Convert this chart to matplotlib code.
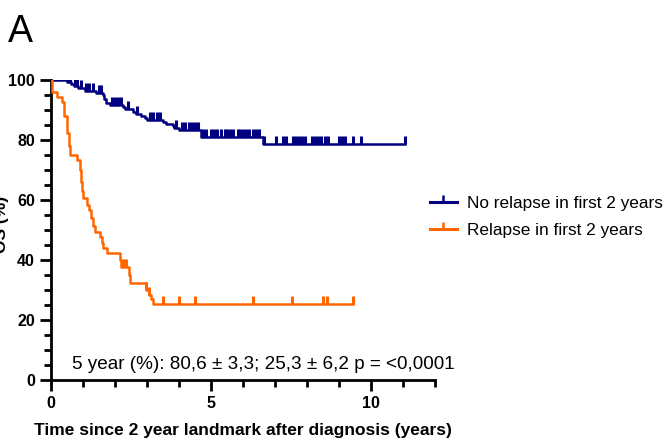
import numpy as np
import matplotlib
matplotlib.use('Agg')
import matplotlib.pyplot as plt
from matplotlib.ticker import MultipleLocator

plt.rcParams['font.family'] = ['Liberation Sans', 'DejaVu Sans']

# No relapse in first 2 years: step times (years) and OS (%)
no_rel_t = [0, 0.50, 0.62, 0.72, 0.85, 1.05, 1.40, 1.62, 1.66, 1.72, 1.85, 2.25, 2.30,
            2.55, 2.65, 2.80, 2.95, 3.00, 3.50, 3.60, 3.80, 3.85, 4.00, 4.69, 6.63]
no_rel_s = [100, 99.3, 98.6, 97.9, 97.2, 96.5, 95.8, 95.1, 93.7, 92.3, 91.6, 90.9, 90.2,
            89.5, 88.8, 88.1, 87.4, 86.7, 86.0, 85.3, 84.6, 83.9, 83.2, 80.9, 78.7]
no_rel_end = 11.06
no_rel_cens = [0.45, 0.55, 0.60, 0.75, 0.80, 0.95, 1.10, 1.20, 1.30, 1.50, 1.55, 1.90, 2.00,
               2.10, 2.20, 2.40, 2.70, 3.10, 3.20, 3.30, 3.40, 3.90, 4.10, 4.20, 4.30, 4.40,
               4.50, 4.60, 4.75, 4.85, 5.00, 5.10, 5.20, 5.30, 5.45, 5.50, 5.60, 5.70, 5.85,
               5.90, 6.00, 6.10, 6.20, 6.30, 6.40, 6.50, 6.66, 7.03, 7.25, 7.35, 7.56, 7.65,
               7.75, 7.85, 7.95, 8.15, 8.25, 8.35, 8.45, 8.55, 8.65, 9.00, 9.10, 9.20, 9.44,
               9.69, 11.06]

# Relapse in first 2 years
rel_t = [0, 0.04, 0.20, 0.33, 0.42, 0.50, 0.56, 0.58, 0.82, 0.92, 0.95, 0.98, 1.00, 1.13,
         1.18, 1.25, 1.30, 1.37, 1.52, 1.60, 1.63, 1.75, 2.16, 2.20, 2.44, 2.47, 2.97, 3.05,
         3.12, 3.20]
rel_s = [100, 96.1, 94.4, 92.8, 88.0, 82.2, 78.0, 75.0, 73.3, 70.0, 66.0, 63.0, 60.6, 58.3,
         56.7, 53.9, 51.3, 49.4, 47.8, 45.8, 43.9, 42.2, 40.0, 37.8, 35.0, 32.2, 30.0, 28.3,
         27.0, 25.3]
rel_end = 9.43
rel_cens = [2.22, 2.28, 2.34, 2.97, 3.07, 3.50, 4.00, 4.50, 6.30, 7.53, 8.50, 8.62, 9.43]

navy = '#000080'
orange = '#FF6600'


def surv_at(times, surv, pts):
    idx = np.searchsorted(times, pts, side='right') - 1
    return np.array(surv)[idx]


fig = plt.figure(figsize=(6.71, 4.42), dpi=100)
ax = fig.add_axes([51 / 671, 62 / 442, 384 / 671, 300 / 442])

for t, s, end, cens, col, lab in [
        (no_rel_t, no_rel_s, no_rel_end, no_rel_cens, navy, 'No relapse in first 2 years'),
        (rel_t, rel_s, rel_end, rel_cens, orange, 'Relapse in first 2 years')]:
    tt = list(t) + [end]
    ss = list(s) + [s[-1]]
    ax.step(tt, ss, where='post', color=col, lw=1.8, zorder=3)
    ax.plot(cens, surv_at(t, s, cens), ls='none', marker=2, ms=6, mew=2.2,
            color=col, zorder=3)
    ax.plot([], [], color=col, lw=2.2, marker=2, ms=5, mew=1.8, label=lab)

ax.set_xlim(0, 12)
ax.set_ylim(0, 100)
ax.spines['top'].set_visible(False)
ax.spines['right'].set_visible(False)
for sp in ['left', 'bottom']:
    ax.spines[sp].set_linewidth(2)
ax.xaxis.set_major_locator(MultipleLocator(5))
ax.xaxis.set_minor_locator(MultipleLocator(1))
ax.yaxis.set_major_locator(MultipleLocator(20))
ax.yaxis.set_minor_locator(MultipleLocator(5))
ax.tick_params(which='major', length=8, width=2, labelsize=11.5)
ax.tick_params(which='minor', length=5, width=2)
ax.set_xticks([0, 5, 10])
ax.set_xticklabels(['0', '5', '10'])
for lbl in ax.get_xticklabels() + ax.get_yticklabels():
    lbl.set_fontweight('bold')

ax.set_xlabel('Time since 2 year landmark after diagnosis (years)',
              fontsize=12.5, fontweight='bold', labelpad=9)
ax.set_ylabel('OS (%)', fontsize=12.5, fontweight='bold')
ax.yaxis.set_label_coords(-0.11, 0.52)

ax.text(0.65, 2.3, '5 year (%): 80,6 \u00b1 3,3; 25,3 \u00b1 6,2 p = <0,0001',
        fontsize=13.6, va='bottom', ha='left')

fig.text(8 / 671, 1 - 42 / 442, 'A', fontsize=27, ha='left', va='baseline')

fig.legend(loc='center left', bbox_to_anchor=(414 / 671, 1 - 217 / 442),
           frameon=False, fontsize=12.4, handlelength=1.6, labelspacing=0.65,
           handletextpad=0.6)

fig.savefig('out.png', dpi=100)
